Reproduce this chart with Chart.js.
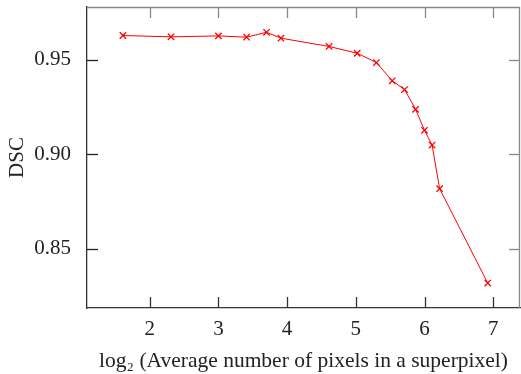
<!DOCTYPE html>
<html>
<head>
<meta charset="utf-8">
<script src="https://cdn.jsdelivr.net/npm/chart.js@4.4.1/dist/chart.umd.min.js"></script>
<style>
  html, body { margin: 0; padding: 0; background: #fff; }
  #wrap { width: 521px; height: 374px; }
</style>
</head>
<body>
<div id="wrap"><canvas id="chart"></canvas></div>
<script>
const xValues = [1.61, 2.31, 3.00, 3.41, 3.70, 3.91, 4.61, 5.02, 5.30, 5.53, 5.71, 5.87, 6.00, 6.11, 6.22, 6.92];
const dscValues = [0.9629, 0.9622, 0.9627, 0.9620, 0.9646, 0.9615, 0.9571, 0.9535, 0.9486, 0.9389, 0.9343, 0.9238, 0.9127, 0.9049, 0.8818, 0.8318];
const xTicks = [2, 3, 4, 5, 6, 7];
const yTicks = [0.85, 0.90, 0.95];

const serif = '"Liberation Serif", "DejaVu Serif", serif';

// inward tick marks on all four sides, plus top/right frame
const frameTicks = {
  id: 'frameTicks',
  afterDatasetsDraw(chart) {
    const { ctx, chartArea: a, scales } = chart;
    const len = 11;
    ctx.save();
    ctx.lineWidth = 1.3;
    ctx.strokeStyle = '#888';
    ctx.beginPath();
    ctx.moveTo(a.left, a.top + 0.5);
    ctx.lineTo(a.right - 0.5, a.top + 0.5);
    ctx.lineTo(a.right - 0.5, a.bottom);
    ctx.stroke();

    xTicks.forEach(v => {
      const px = Math.round(scales.x.getPixelForValue(v)) + 0.5;
      ctx.strokeStyle = '#333';
      ctx.beginPath();
      ctx.moveTo(px, a.bottom);
      ctx.lineTo(px, a.bottom - len);
      ctx.stroke();
      ctx.strokeStyle = '#888';
      ctx.beginPath();
      ctx.moveTo(px, a.top);
      ctx.lineTo(px, a.top + len);
      ctx.stroke();
    });
    yTicks.forEach(v => {
      const py = Math.round(scales.y.getPixelForValue(v)) + 0.5;
      ctx.strokeStyle = '#222';
      ctx.beginPath();
      ctx.moveTo(a.left, py);
      ctx.lineTo(a.left + len, py);
      ctx.stroke();
      ctx.strokeStyle = '#888';
      ctx.beginPath();
      ctx.moveTo(a.right, py);
      ctx.lineTo(a.right - len, py);
      ctx.stroke();
    });
    ctx.restore();
  }
};

new Chart(document.getElementById('chart'), {
  type: 'scatter',
  data: {
    datasets: [{
      data: xValues.map((x, i) => ({ x: x, y: dscValues[i] })),
      showLine: true,
      borderColor: '#ff0000',
      backgroundColor: '#ff0000',
      borderWidth: 1,
      pointStyle: 'crossRot',
      pointRadius: 4.5,
      pointBorderWidth: 1.3,
      pointBorderColor: '#ff0000'
    }]
  },
  options: {
    responsive: true,
    maintainAspectRatio: false,
    animation: false,
    layout: { autoPadding: false, padding: { left: 0, right: 1, top: 7, bottom: 0 } },
    plugins: { legend: { display: false }, tooltip: { enabled: false } },
    scales: {
      x: {
        type: 'linear',
        min: 1.087,
        max: 7.39,
        afterBuildTicks: s => { s.ticks = xTicks.map(v => ({ value: v })); },
        afterFit: s => { s.height = 66; s.paddingLeft = 0; s.paddingRight = 0; },
        grid: { display: false },
        border: { display: true, color: '#333', width: 1.3 },
        ticks: {
          color: '#222',
          padding: 1,
          font: { family: serif, size: 21 },
          callback: v => String(v)
        },
        title: {
          display: true,
          text: 'log\u2082 (Average number of pixels in a superpixel)',
          color: '#222',
          font: { family: serif, size: 21.5 },
          padding: { top: 10, bottom: 0 }
        }
      },
      y: {
        type: 'linear',
        min: 0.8186,
        max: 0.978,
        afterBuildTicks: s => { s.ticks = yTicks.map(v => ({ value: v })); },
        afterFit: s => { s.width = 87; s.paddingTop = 0; s.paddingBottom = 0; },
        grid: { display: false },
        border: { display: true, color: '#333', width: 1.3 },
        ticks: {
          color: '#222',
          padding: 8,
          font: { family: serif, size: 21 },
          callback: v => v.toFixed(2)
        },
        title: {
          display: true,
          text: 'DSC',
          color: '#222',
          font: { family: serif, size: 21 },
          padding: { top: 5, bottom: 0 }
        }
      }
    }
  },
  plugins: [frameTicks]
});
</script>
</body>
</html>
